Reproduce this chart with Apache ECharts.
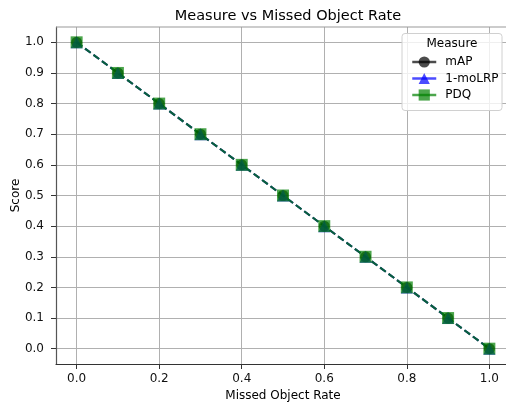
<!DOCTYPE html>
<html>
<head>
<meta charset="utf-8">
<script src="https://cdn.jsdelivr.net/npm/echarts@6/dist/echarts.min.js"></script>
<style>
  html, body { margin: 0; padding: 0; background: #fff; }
  #main { width: 506px; height: 405px; }
</style>
</head>
<body>
<div id="main"></div>
<script>
// missed object rate on x, score on y
var rates = [0.0, 0.1, 0.2, 0.3, 0.4, 0.5, 0.6, 0.7, 0.8, 0.9, 1.0]
var mapScores = [1.0, 0.9, 0.8, 0.7, 0.6, 0.5, 0.4, 0.3, 0.2, 0.1, 0.0]
var moLrpScores = [1.0, 0.9, 0.8, 0.7, 0.6, 0.5, 0.4, 0.3, 0.2, 0.1, 0.0]
var pdqScores = [1.0, 0.9, 0.8, 0.7, 0.6, 0.5, 0.4, 0.3, 0.2, 0.1, 0.0]
var xTicks = [0.0, 0.2, 0.4, 0.6, 0.8, 1.0]
var yTicks = [0.0, 0.1, 0.2, 0.3, 0.4, 0.5, 0.6, 0.7, 0.8, 0.9, 1.0]

var font = 'DejaVu Sans'

function pairs (ys) {
  return rates.map(function (x, i) { return [x, ys[i]] })
}

function makeSeries (name, data, color, symbol, size) {
  return {
    name: name,
    type: 'line',
    data: pairs(data),
    symbol: symbol,
    symbolSize: size,
    lineStyle: { color: color, width: 2, type: [7, 3.5], opacity: 0.7 },
    itemStyle: { color: color, opacity: 0.7 },
    emphasis: { disabled: true },
    z: 3
  }
}

var myChart = echarts.init(document.querySelector('#main'), null, { renderer: 'canvas' })

var option = {
  animation: false,
  textStyle: { fontFamily: font },
  title: {
    text: 'Measure vs Missed Object Rate',
    left: 283,
    top: 4,
    textAlign: 'center',
    textStyle: { fontFamily: font, fontSize: 14.5, fontWeight: 'normal', color: '#000' }
  },
  grid: { left: 56, width: 454, top: 27, bottom: 41, containLabel: false, outerBoundsMode: 'none' },
  xAxis: {
    type: 'value',
    min: -0.05,
    max: 1.05,
    name: 'Missed Object Rate',
    nameLocation: 'middle',
    nameGap: 26,
    nameMoveOverlap: false,
    nameTextStyle: { fontFamily: font, fontSize: 12, color: '#000' },
    axisLine: { show: true, onZero: false, lineStyle: { color: '#333', width: 1.2 } },
    axisTick: { show: true, length: 5, customValues: xTicks, lineStyle: { color: '#333' } },
    axisLabel: {
      customValues: xTicks,
      fontFamily: font, fontSize: 12, color: '#111', margin: 9,
      formatter: function (v) { return v.toFixed(1) }
    },
    splitLine: { show: true, lineStyle: { color: '#b0b0b0', width: 1 } }
  },
  yAxis: {
    type: 'value',
    min: -0.05,
    max: 1.05,
    name: 'Score',
    nameLocation: 'middle',
    nameGap: 34,
    nameMoveOverlap: false,
    nameTextStyle: { fontFamily: font, fontSize: 12, color: '#000' },
    axisLine: { show: true, onZero: false, lineStyle: { color: '#555', width: 1.2 } },
    axisTick: { show: true, length: 5, customValues: yTicks, lineStyle: { color: '#333' } },
    axisLabel: {
      customValues: yTicks,
      fontFamily: font, fontSize: 12, color: '#111', margin: 12,
      formatter: function (v) { return v.toFixed(1) }
    },
    splitLine: { show: true, lineStyle: { color: '#b0b0b0', width: 1 } }
  },
  legend: {
    orient: 'vertical',
    left: 406,
    top: 51,
    z: 20,
    itemWidth: 24,
    itemHeight: 14,
    itemGap: 4.5,
    lineStyle: { type: 'solid', width: 2.5 },
    textStyle: { fontFamily: font, fontSize: 12, color: '#000', padding: [0, 0, 0, 4] },
    data: ['mAP', '1-moLRP', 'PDQ']
  },
  graphic: [
    {
      type: 'line',
      shape: { x1: 56, y1: 27, x2: 506, y2: 27 },
      style: { stroke: '#999', lineWidth: 1.2 },
      z: 5
    },
    {
      type: 'rect',
      shape: { x: 402, y: 33.5, width: 100, height: 77, r: 3 },
      style: { fill: 'rgba(255,255,255,0.8)', stroke: '#d0d0d0', lineWidth: 1 },
      z: 10
    },
    {
      type: 'text',
      x: 452,
      y: 38,
      style: { text: 'Measure', fontFamily: font, fontSize: 12, fill: '#000', align: 'center' },
      z: 11
    }
  ],
  series: [
    makeSeries('mAP', mapScores, '#000000', 'circle', 11),
    makeSeries('1-moLRP', moLrpScores, '#0000ff', 'triangle', 12),
    makeSeries('PDQ', pdqScores, '#008000', 'rect', 12)
  ]
}

myChart.setOption(option)
</script>
</body>
</html>
